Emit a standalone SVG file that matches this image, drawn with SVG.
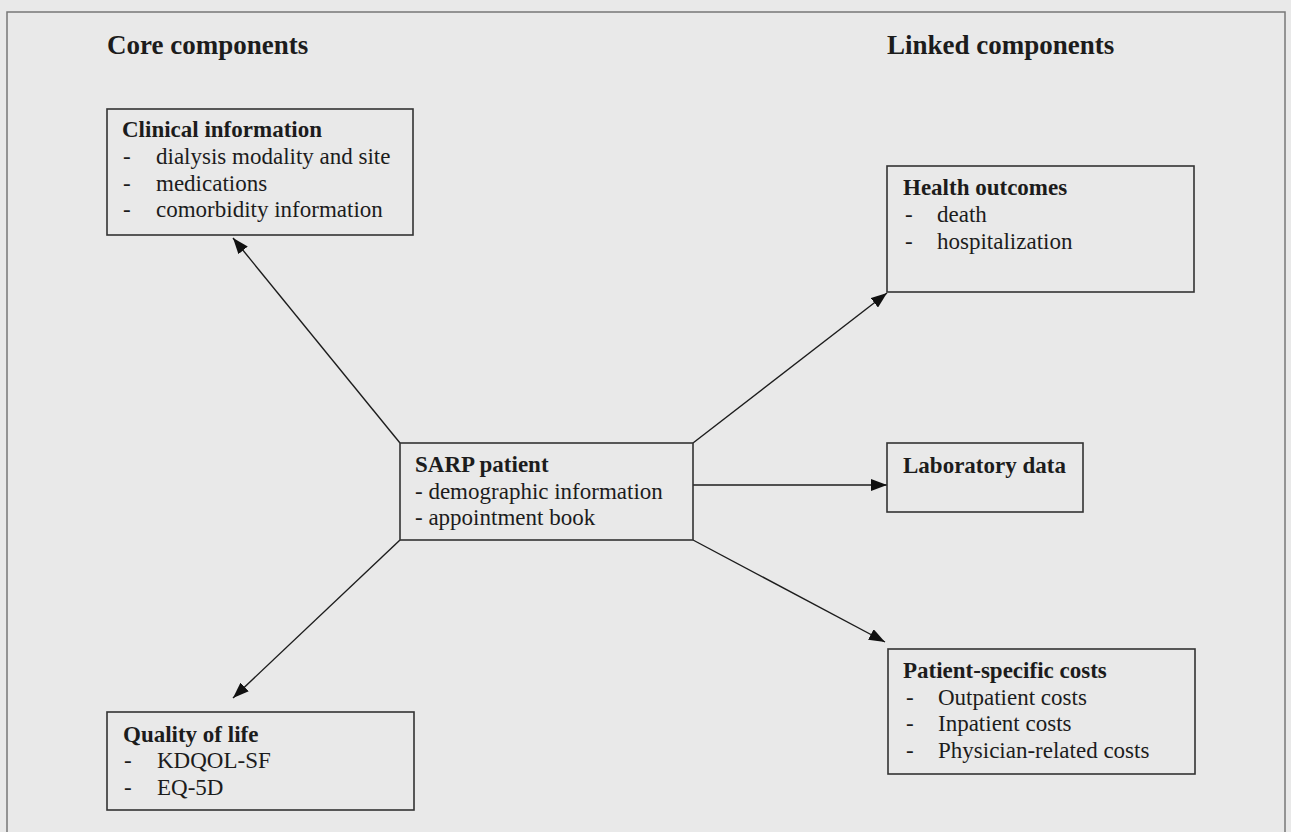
<svg xmlns="http://www.w3.org/2000/svg" width="1291" height="832" viewBox="0 0 1291 832">
<style>
text{font-family:"Liberation Serif","Times New Roman",serif;fill:#1c1c1c}
.title{font-size:27px;font-weight:bold}
.head{font-size:23px;font-weight:bold}
.item{font-size:23px}
.box{fill:none;stroke:#333;stroke-width:1.6}
.conn{stroke:#1c1c1c;stroke-width:1.4;fill:none}
</style>
<defs>
<marker id="arr" viewBox="0 0 16 12" refX="16" refY="6" markerWidth="16" markerHeight="12" markerUnits="userSpaceOnUse" orient="auto">
<path d="M0,0 L16,6 L0,12 Z" fill="#111"/>
</marker>
</defs>
<rect x="0" y="0" width="1291" height="832" fill="#e9e9e9"/>
<rect x="7" y="12" width="1278" height="830" fill="none" stroke="#777" stroke-width="1.5"/>
<text class="title" x="107" y="54">Core components</text>
<text class="title" x="887" y="54">Linked components</text>
<g id="connectors">
<line class="conn" x1="400" y1="443" x2="233" y2="238" marker-end="url(#arr)"/>
<line class="conn" x1="693" y1="443" x2="887" y2="293" marker-end="url(#arr)"/>
<line class="conn" x1="693" y1="485" x2="887" y2="485" marker-end="url(#arr)"/>
<line class="conn" x1="693" y1="540" x2="885" y2="642" marker-end="url(#arr)"/>
<line class="conn" x1="400" y1="540" x2="233" y2="698" marker-end="url(#arr)"/>
</g>
<g id="clinical">
<rect class="box" x="107" y="109" width="306" height="126"/>
<text class="head" x="122" y="137">Clinical information</text>
<text class="item" x="123" y="164">-</text><text class="item" x="156" y="164">dialysis modality and site</text>
<text class="item" x="123" y="191">-</text><text class="item" x="156" y="191">medications</text>
<text class="item" x="123" y="217">-</text><text class="item" x="156" y="217">comorbidity information</text>
</g>
<g id="health">
<rect class="box" x="887" y="166" width="307" height="126"/>
<text class="head" x="903" y="195">Health outcomes</text>
<text class="item" x="905" y="222">-</text><text class="item" x="937" y="222">death</text>
<text class="item" x="905" y="249">-</text><text class="item" x="937" y="249">hospitalization</text>
</g>
<g id="sarp">
<rect class="box" x="400" y="443" width="293" height="97"/>
<text class="head" x="415" y="472">SARP patient</text>
<text class="item" x="415" y="499">- demographic information</text>
<text class="item" x="415" y="525">- appointment book</text>
</g>
<g id="lab">
<rect class="box" x="887" y="443" width="196" height="69"/>
<text class="head" x="903" y="473">Laboratory data</text>
</g>
<g id="costs">
<rect class="box" x="888" y="649" width="307" height="125"/>
<text class="head" x="903" y="678">Patient-specific costs</text>
<text class="item" x="906" y="705">-</text><text class="item" x="938" y="705">Outpatient costs</text>
<text class="item" x="906" y="731">-</text><text class="item" x="938" y="731">Inpatient costs</text>
<text class="item" x="906" y="758">-</text><text class="item" x="938" y="758">Physician-related costs</text>
</g>
<g id="quality">
<rect class="box" x="107" y="712" width="307" height="98"/>
<text class="head" x="123" y="742">Quality of life</text>
<text class="item" x="124" y="768">-</text><text class="item" x="157" y="768">KDQOL-SF</text>
<text class="item" x="124" y="795">-</text><text class="item" x="157" y="795">EQ-5D</text>
</g>
</svg>
